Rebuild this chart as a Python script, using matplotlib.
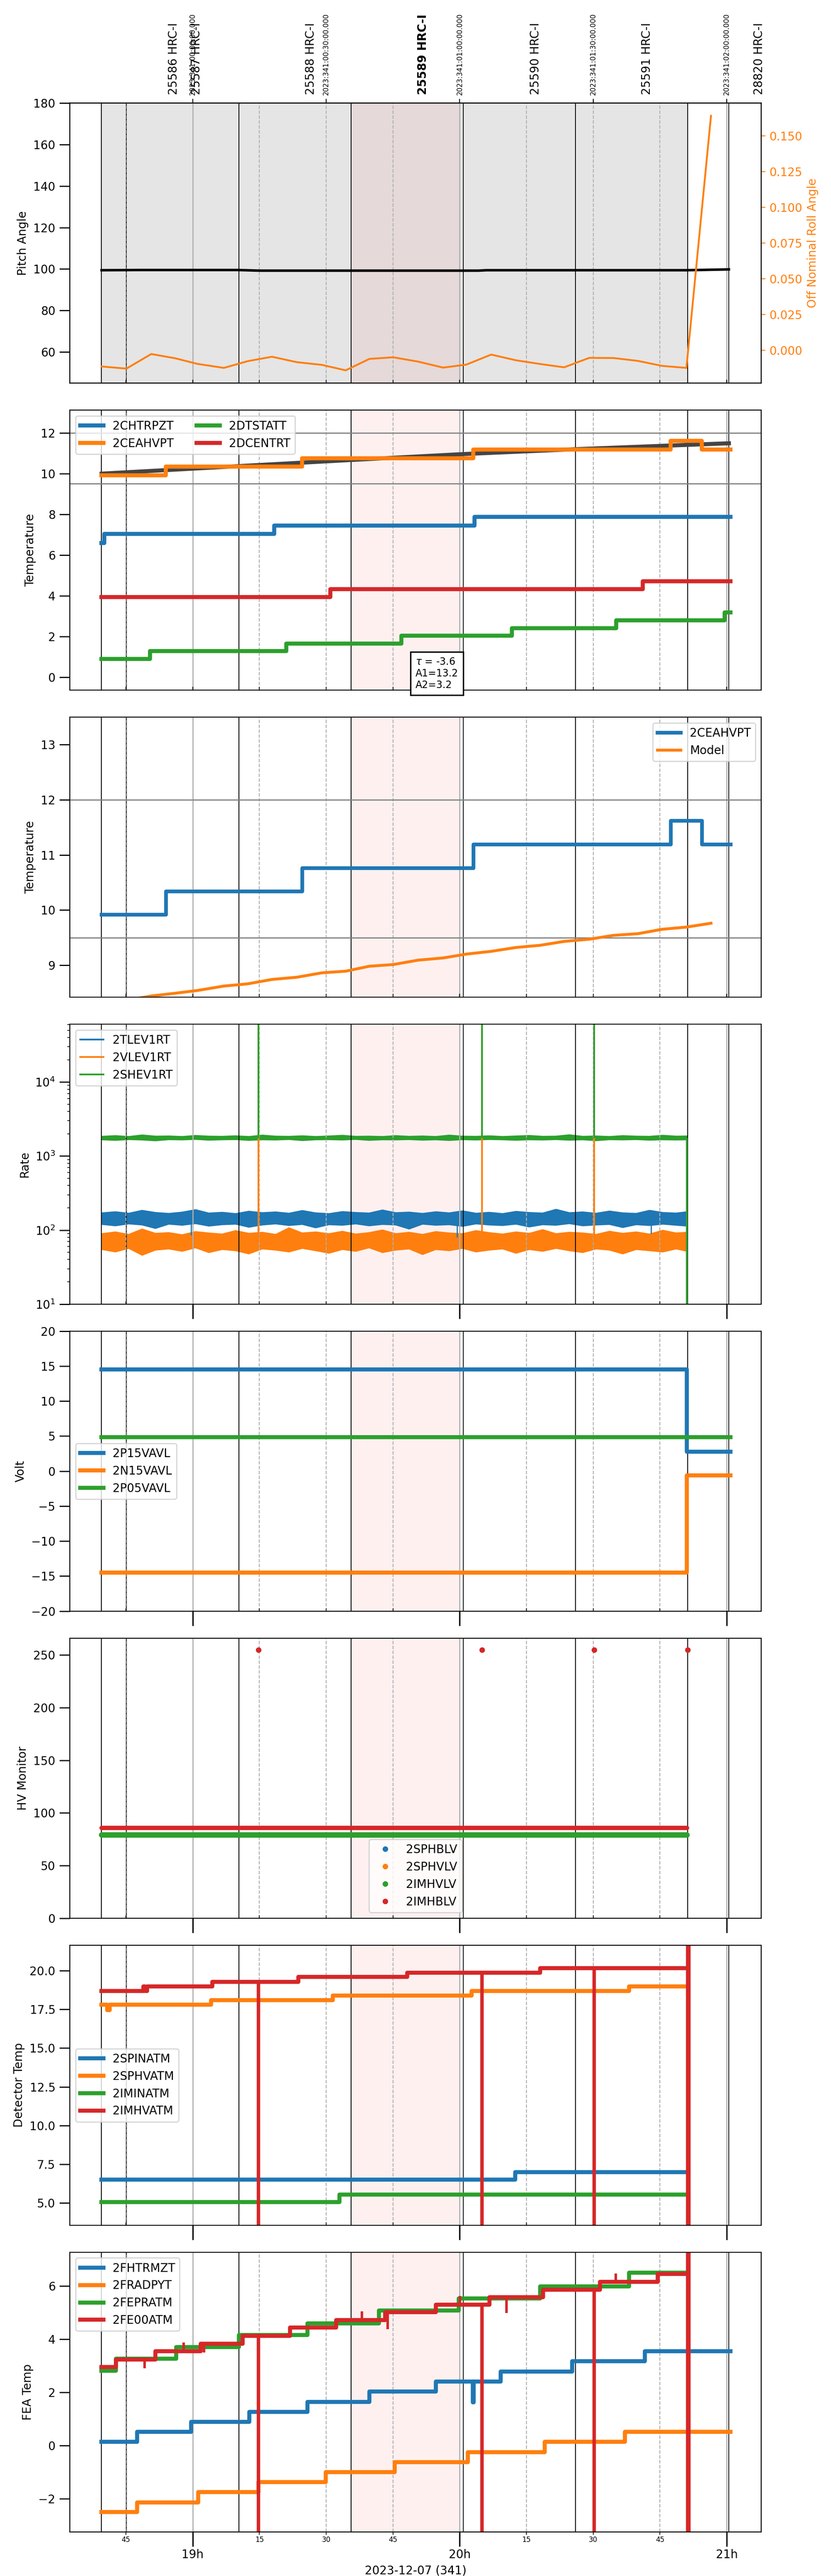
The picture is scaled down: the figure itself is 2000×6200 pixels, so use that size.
import matplotlib
matplotlib.use("Agg")
import matplotlib.pyplot as plt
import matplotlib.transforms as mtransforms
from matplotlib.lines import Line2D
from matplotlib.ticker import FixedLocator, FixedFormatter, MultipleLocator

plt.rcParams['font.size'] = 10

C_BLUE, C_ORANGE, C_GREEN, C_RED = '#1f77b4', '#ff7f0e', '#2ca02c', '#d62728'

# ---- time axis (decimal hours) ----
x_range = [18.540, 21.129]
major_hours = [19, 20, 21]
major_labels = ["19h", "20h", "21h"]
minor_hours = [18.75, 19.25, 19.5, 19.75, 20.25, 20.5, 20.75]
minor_labels = ["45", "15", "30", "45", "15", "30", "45"]
top_hours = [19, 19.5, 20, 20.5, 21]
top_labels = ["2023:341:00:00:00.000", "2023:341:00:30:00.000", "2023:341:01:00:00.000",
              "2023:341:01:30:00.000", "2023:341:02:00:00.000"]
xlabel = "2023-12-07 (341)"

# ---- observations ----
obs_edges = [18.659, 18.752, 19.174, 19.593, 20.013, 20.433, 20.853, 21.008]
obs_span = [18.659, 20.853]
highlight = [19.593, 20.001]
obsids = ["25586 HRC-I", "25587 HRC-I", "25588 HRC-I", "25589 HRC-I",
          "25590 HRC-I", "25591 HRC-I", "28820 HRC-I"]
obsid_pos = [18.929, 19.014, 19.442, 19.862, 20.284, 20.701, 21.121]
current_obsid = "25589 HRC-I"

# ---- panel 1: pitch / roll ----
pitch_t = [18.659, 18.80, 19.17, 19.25, 19.60, 20.07, 20.10, 20.85, 21.008]
pitch = [99.4, 99.5, 99.5, 99.2, 99.2, 99.2, 99.4, 99.4, 99.8]
roll_t = [18.659, 18.752, 18.845, 18.935, 19.018, 19.117, 19.206, 19.297, 19.390,
          19.484, 19.573, 19.662, 19.751, 19.844, 19.938, 20.025, 20.118, 20.211,
          20.302, 20.391, 20.485, 20.576, 20.667, 20.758, 20.849, 20.941]
roll = [-0.0112, -0.0127, -0.0025, -0.0055, -0.0094, -0.0122, -0.0075, -0.0044, -0.0082,
        -0.0101, -0.0139, -0.0059, -0.0048, -0.0078, -0.0120, -0.0099, -0.0029, -0.0069,
        -0.0095, -0.0118, -0.0052, -0.0053, -0.0073, -0.0108, -0.0122, 0.1639]

# ---- panel 2: temperatures ----
chtrpzt_t = [18.659, 18.669, 19.305, 20.055, 21.014]
chtrpzt = [6.6, 7.05, 7.45, 7.87, 7.87]
ceahvpt_t = [18.659, 18.899, 19.410, 20.051, 20.790, 20.907, 21.014]
ceahvpt = [9.92, 10.34, 10.76, 11.19, 11.62, 11.19, 11.19]
dtstatt_t = [18.659, 18.841, 19.351, 19.781, 20.195, 20.586, 20.992, 21.014]
dtstatt = [0.90, 1.29, 1.67, 2.05, 2.42, 2.80, 3.18, 3.18]
dcentrt_t = [18.659, 19.515, 20.685, 21.014]
dcentrt = [3.95, 4.33, 4.72, 4.72]
fit_t = [18.659, 19.174, 19.593, 20.013, 20.433, 21.008]
fit = [10.0, 10.37, 10.67, 10.96, 11.2, 11.49]
temp_limits = [12.0, 9.5]
fit_text = "$\\tau$ = -3.6\nA1=13.2\nA2=3.2"

# ---- panel 3: model ----
model_t = roll_t
model = [8.30, 8.36, 8.44, 8.49, 8.54, 8.62, 8.66, 8.74, 8.78, 8.86, 8.89, 8.98, 9.01,
         9.09, 9.13, 9.20, 9.25, 9.32, 9.36, 9.43, 9.47, 9.54, 9.57, 9.65, 9.69, 9.76]

# ---- panel 4: rates (noise envelopes) ----
env_t = [18.659, 18.71, 18.76, 18.81, 18.86, 18.91, 18.96, 19.01, 19.06, 19.11, 19.16,
         19.21, 19.26, 19.31, 19.36, 19.41, 19.46, 19.51, 19.56, 19.61, 19.66, 19.71,
         19.76, 19.81, 19.86, 19.91, 19.96, 20.01, 20.06, 20.11, 20.16, 20.21, 20.26,
         20.31, 20.36, 20.41, 20.46, 20.51, 20.56, 20.61, 20.66, 20.71, 20.76, 20.81, 20.851]
tlev_hi = [172, 178, 170, 186, 174, 169, 176, 190, 171, 175, 168, 181, 173, 177, 170, 185,
           172, 168, 179, 174, 171, 188, 173, 176, 169, 178, 172, 183, 170, 175, 168, 180,
           174, 171, 192, 173, 177, 170, 182, 172, 169, 186, 174, 171, 178]
tlev_lo = [120, 115, 122, 118, 106, 121, 117, 123, 114, 119, 121, 110, 118, 122, 116, 120,
           108, 119, 117, 122, 115, 120, 118, 104, 121, 117, 119, 113, 122, 118, 116, 121,
           111, 119, 117, 123, 115, 118, 120, 109, 119, 116, 121, 117, 114]
vlev_hi = [90, 95, 88, 104, 91, 93, 87, 96, 92, 89, 99, 91, 94, 88, 108, 92, 95, 90, 97, 89,
           93, 101, 90, 94, 88, 96, 92, 90, 99, 93, 89, 95, 91, 102, 90, 94, 92, 88, 97, 91,
           95, 89, 100, 92, 94]
vlev_lo = [55, 51, 57, 46, 54, 56, 52, 58, 50, 55, 53, 48, 56, 54, 51, 57, 53, 49, 55, 52,
           58, 50, 54, 56, 47, 55, 53, 57, 51, 54, 56, 49, 55, 52, 57, 53, 50, 56, 54, 48,
           55, 53, 51, 56, 52]
shev_hi = [1860, 1900, 1850, 1940, 1870, 1880, 1850, 1910, 1870, 1860, 1890, 1850, 1930,
           1870, 1860, 1890, 1850, 1880, 1920, 1860, 1870, 1850, 1900, 1860, 1880, 1850,
           1930, 1870, 1860, 1890, 1850, 1880, 1910, 1860, 1870, 1950, 1860, 1880, 1850,
           1900, 1870, 1860, 1920, 1870, 1880]
shev_lo = [1670, 1640, 1680, 1660, 1620, 1675, 1665, 1690, 1650, 1670, 1680, 1640, 1670,
           1660, 1685, 1630, 1670, 1675, 1660, 1690, 1640, 1670, 1665, 1680, 1650, 1670,
           1635, 1675, 1660, 1685, 1670, 1645, 1670, 1660, 1680, 1650, 1670, 1625, 1675,
           1665, 1680, 1650, 1670, 1660, 1670]
rate_spike_t = [19.246, 20.084, 20.504]
rate_spike_top = 1e6
rate_levels = [145, 70, 1750]
rate_end_t = 20.851
rate_floor = 1
tlev_dip_t = [18.995, 19.99, 20.716]
tlev_dip = [85, 80, 90]

# ---- panel 5: voltages ----
volt_t = [18.659, 20.851, 21.014]
p15 = [14.5, 2.8, 2.8]
n15 = [-14.5, -0.6, -0.6]
p05_t = [18.659, 21.014]
p05 = [4.85, 4.85]

# ---- panel 6: HV monitor ----
hv_t = [18.659, 20.851]
sphblv = []
sphvlv = []
imhvlv = [79.2, 79.2]
imhblv = [86.0, 86.0]
imhblv_spike_t = [19.246, 20.084, 20.504, 20.853]
imhblv_spike = [255, 255, 255, 255]

# ---- panel 7: detector temps ----
spinatm_t = [18.659, 20.208, 20.843]
spinatm = [6.50, 6.98, 6.98]
sphvatm_t = [18.659, 18.680, 18.690, 19.069, 19.525, 20.045, 20.635, 20.843]
sphvatm = [17.80, 17.45, 17.80, 18.10, 18.38, 18.68, 18.98, 18.98]
iminatm_t = [18.659, 19.549, 20.843]
iminatm = [5.06, 5.55, 5.55]
imhvatm_t = [18.659, 18.816, 18.822, 18.830, 19.073, 19.396, 19.803, 20.302, 20.843]
imhvatm = [18.69, 18.99, 18.69, 18.99, 19.29, 19.59, 19.87, 20.17, 20.17]
det_spike_t = [19.246, 20.084, 20.504]
det_spike_from = [19.29, 19.87, 20.17]
det_spike_to = -10
det_end_t = 20.855

# ---- panel 8: FEA temps ----
fhtrmzt_t = [18.659, 18.792, 18.994, 19.212, 19.430, 19.662, 19.910, 20.049, 20.053,
             20.154, 20.421, 20.693, 21.014]
fhtrmzt = [0.14, 0.52, 0.90, 1.27, 1.65, 2.03, 2.41, 1.63, 2.41, 2.78, 3.17, 3.55, 3.55]
fradpyt_t = [18.659, 18.792, 19.020, 19.246, 19.498, 19.757, 20.031, 20.318, 20.619, 21.014]
fradpyt = [-2.50, -2.13, -1.75, -1.37, -0.99, -0.62, -0.24, 0.14, 0.52, 0.52]
fepratm_t = [18.659, 18.713, 18.939, 19.174, 19.430, 19.698, 19.997, 20.302, 20.635, 20.851]
fepratm = [2.82, 3.26, 3.70, 4.15, 4.60, 5.07, 5.53, 5.99, 6.49, 6.49]
fe00atm_t = [18.659, 18.713, 18.861, 19.030, 19.188, 19.365, 19.537, 19.721, 19.910,
             20.112, 20.312, 20.526, 20.742, 20.851]
fe00atm = [2.95, 3.24, 3.55, 3.83, 4.13, 4.43, 4.72, 5.02, 5.30, 5.57, 5.86, 6.16, 6.45, 6.45]
fe00_blip_t = [18.820, 18.966, 19.042, 19.634, 19.731, 20.001, 20.175, 20.584]
fe00_blip_from = [3.24, 3.55, 3.83, 4.72, 5.02, 5.30, 5.57, 6.16]
fe00_blip_to = [2.90, 3.88, 3.50, 5.05, 4.38, 5.62, 4.98, 6.47]
fea_spike_t = [19.246, 20.084, 20.504]
fea_spike_from = [4.13, 5.30, 5.86]

LW = 3.5


def step(ax, t, v, color, label=None, lw=LW):
    ax.step(t, v, where='post', color=color, lw=lw, label=label)


fig, axes = plt.subplots(8, 1, figsize=(10, 31), dpi=200, sharex=True)
fig.subplots_adjust(left=0.084, right=0.916, top=0.96, bottom=0.01702, hspace=0.0964)

for i, ax in enumerate(axes):
    ax.set_xlim(x_range)
    ax.axvspan(highlight[0], highlight[1], color='red', alpha=0.06, lw=0)
    for e in obs_edges:
        ax.axvline(e, color='k', lw=0.7, zorder=1.5)
    ax.grid(True, which='major', axis='x', color='#b0b0b0', lw=1.0)
    ax.grid(True, which='minor', axis='x', color='#b0b0b0', ls='--', lw=0.8)
    ax.tick_params(axis='y', which='major', length=9, width=1)
    if i < 3:
        ax.tick_params(axis='x', which='both', direction='in', length=3)
    else:
        ax.tick_params(axis='x', which='major', direction='out', length=12.5, width=1.2, pad=2)
        ax.tick_params(axis='x', which='minor', direction='in' if i < 7 else 'out',
                       length=2.5, pad=1, labelsize=6)
    if i < 7:
        ax.tick_params(axis='x', which='both', labelbottom=False)

axes[-1].xaxis.set_major_locator(FixedLocator(major_hours))
axes[-1].xaxis.set_minor_locator(FixedLocator(minor_hours))
axes[-1].xaxis.set_major_formatter(FixedFormatter(major_labels))
axes[-1].xaxis.set_minor_formatter(FixedFormatter(minor_labels))
axes[-1].set_xlabel(xlabel)

# panel 1
ax = axes[0]
ax.axvspan(obs_span[0], obs_span[1], color='gray', alpha=0.2, lw=0)
ax.plot(pitch_t, pitch, color='k', lw=2.2)
ax.set_ylim(45, 180)
ax.yaxis.set_major_locator(MultipleLocator(20))
ax.set_ylabel("Pitch Angle")
axr = ax.twinx()
axr.plot(roll_t, roll, color=C_ORANGE, lw=1.6)
axr.set_ylabel("Off Nominal Roll Angle", color=C_ORANGE)
axr.tick_params(axis='y', colors=C_ORANGE)
sec = ax.secondary_xaxis('top')
sec.set_xticks(top_hours)
sec.set_xticklabels(top_labels, rotation=90, fontsize=6)
blend = mtransforms.blended_transform_factory(ax.transData, ax.transAxes)
for name, pos in zip(obsids, obsid_pos):
    ax.text(pos, 1.03, name, transform=blend, rotation=90, ha='center', va='bottom',
            fontsize=10, fontweight='bold' if name == current_obsid else 'normal')

# panel 2
ax = axes[1]
for lim in temp_limits:
    ax.axhline(lim, color='gray', lw=1)
ax.plot(fit_t, fit, color='0.27', lw=LW)
step(ax, chtrpzt_t, chtrpzt, C_BLUE, "2CHTRPZT")
step(ax, ceahvpt_t, ceahvpt, C_ORANGE, "2CEAHVPT")
step(ax, dtstatt_t, dtstatt, C_GREEN, "2DTSTATT")
step(ax, dcentrt_t, dcentrt, C_RED, "2DCENTRT")
ax.set_ylim(-0.62, 13.12)
ax.yaxis.set_major_locator(MultipleLocator(2))
ax.set_ylabel("Temperature")
ax.legend(loc='upper left', ncol=2)
ax.text(0.5, 0.0, fit_text, transform=ax.transAxes, fontsize=8.5, ha='left', va='bottom',
        bbox=dict(boxstyle='square,pad=0.5', facecolor='white', edgecolor='black', lw=1.2),
        zorder=10)

# panel 3
ax = axes[2]
for lim in temp_limits:
    ax.axhline(lim, color='gray', lw=1)
step(ax, ceahvpt_t, ceahvpt, C_BLUE, "2CEAHVPT", lw=3.2)
ax.plot(model_t, model, color=C_ORANGE, lw=2.5, label="Model")
ax.set_ylim(8.42, 13.5)
ax.yaxis.set_major_locator(MultipleLocator(1))
ax.set_ylabel("Temperature")
ax.legend(loc='upper right')

# panel 4
ax = axes[3]
ax.set_yscale('log')
ax.fill_between(env_t, tlev_lo, tlev_hi, color=C_BLUE, lw=0.8, edgecolor=C_BLUE)
ax.vlines(tlev_dip_t, tlev_dip, rate_levels[0], color=C_BLUE, lw=1)
ax.vlines([rate_end_t], rate_floor, rate_levels[0], color=C_BLUE, lw=1.5)
ax.fill_between(env_t, vlev_lo, vlev_hi, color=C_ORANGE, lw=0.8, edgecolor=C_ORANGE)
ax.vlines(rate_spike_t, rate_levels[1], rate_spike_top, color=C_ORANGE, lw=1.5)
ax.vlines([rate_end_t], rate_floor, rate_levels[1], color=C_ORANGE, lw=1.5)
ax.fill_between(env_t, shev_lo, shev_hi, color=C_GREEN, lw=0.8, edgecolor=C_GREEN)
ax.vlines(rate_spike_t, rate_levels[2], rate_spike_top, color=C_GREEN, lw=1.5)
ax.vlines([rate_end_t], rate_floor, rate_levels[2], color=C_GREEN, lw=1.5)
ax.set_ylim(10, 6.07e4)
ax.set_ylabel("Rate")
ax.legend(handles=[Line2D([], [], color=C_BLUE, lw=1.5, label="2TLEV1RT"),
                   Line2D([], [], color=C_ORANGE, lw=1.5, label="2VLEV1RT"),
                   Line2D([], [], color=C_GREEN, lw=1.5, label="2SHEV1RT")],
          loc='upper left')

# panel 5
ax = axes[4]
step(ax, volt_t, p15, C_BLUE, "2P15VAVL")
step(ax, volt_t, n15, C_ORANGE, "2N15VAVL")
ax.plot(p05_t, p05, color=C_GREEN, lw=LW, label="2P05VAVL")
ax.set_ylim(-20, 20)
ax.yaxis.set_major_locator(MultipleLocator(5))
ax.set_ylabel("Volt")
ax.legend(loc='center left')

# panel 6
ax = axes[5]
ax.plot(hv_t[:len(sphblv)], sphblv, color=C_BLUE)
ax.plot(hv_t[:len(sphvlv)], sphvlv, color=C_ORANGE)
ax.plot(hv_t, imhvlv, color=C_GREEN, lw=4.7, solid_capstyle='round')
ax.plot(hv_t, imhblv, color=C_RED, lw=3.8, solid_capstyle='round')
ax.plot(imhblv_spike_t, imhblv_spike, 'o', color=C_RED, ms=3.8)
ax.set_ylim(0, 266)
ax.yaxis.set_major_locator(MultipleLocator(50))
ax.set_ylabel("HV Monitor")
ax.legend(handles=[Line2D([], [], marker='o', ls='None', ms=3.8, color=c, label=n)
                   for c, n in zip([C_BLUE, C_ORANGE, C_GREEN, C_RED],
                                   ["2SPHBLV", "2SPHVLV", "2IMHVLV", "2IMHBLV"])],
          loc='lower center')

# panel 7
ax = axes[6]
step(ax, spinatm_t, spinatm, C_BLUE, "2SPINATM")
step(ax, sphvatm_t, sphvatm, C_ORANGE, "2SPHVATM")
step(ax, iminatm_t, iminatm, C_GREEN, "2IMINATM")
step(ax, imhvatm_t, imhvatm, C_RED, "2IMHVATM")
ax.vlines(det_spike_t, det_spike_to, det_spike_from, color=C_RED, lw=3)
ax.vlines([det_end_t], det_spike_to, 40, color=C_RED, lw=4)
ax.set_ylim(3.57, 21.65)
ax.yaxis.set_major_locator(MultipleLocator(2.5))
ax.set_ylabel("Detector Temp")
ax.legend(loc='center left')

# panel 8
ax = axes[7]
step(ax, fhtrmzt_t, fhtrmzt, C_BLUE, "2FHTRMZT")
step(ax, fradpyt_t, fradpyt, C_ORANGE, "2FRADPYT")
step(ax, fepratm_t, fepratm, C_GREEN, "2FEPRATM")
step(ax, fe00atm_t, fe00atm, C_RED, "2FE00ATM")
ax.vlines(fe00_blip_t, fe00_blip_from, fe00_blip_to, color=C_RED, lw=2.2)
ax.vlines(fea_spike_t, -10, fea_spike_from, color=C_RED, lw=3)
ax.vlines([det_end_t], -10, 20, color=C_RED, lw=4)
ax.set_ylim(-3.25, 7.27)
ax.yaxis.set_major_locator(MultipleLocator(2))
ax.set_ylabel("FEA Temp")
ax.legend(loc='upper left')

fig.savefig("out.png", dpi=200)
